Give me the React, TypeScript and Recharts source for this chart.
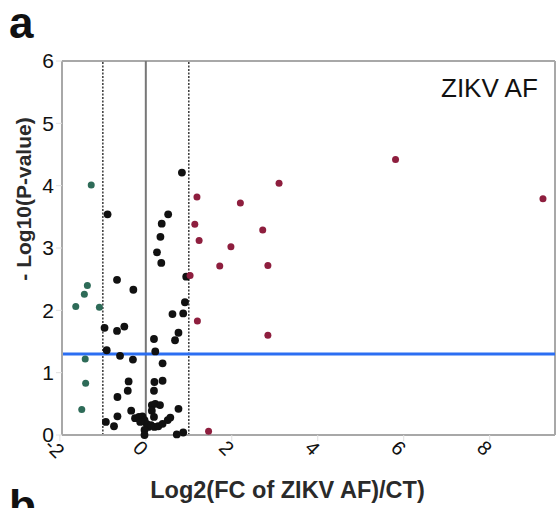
import React from "react";
import {
  ScatterChart,
  Scatter,
  XAxis,
  YAxis,
  ReferenceLine,
  Label,
} from "recharts";

// ---- data ----
const xTicks = [-2, 0, 2, 4, 6, 8];
const yTicks = [0, 1, 2, 3, 4, 5, 6];
const xDomain = [-1.95, 9.52];
const yDomain = [0, 6];
const pThreshold = 1.3;
const fcThresholds = [-1, 1];

const downPoints: [number, number][] = [
  [-1.27, 4.01], [-1.36, 2.4], [-1.43, 2.26], [-1.63, 2.06], [-1.08, 2.05],
  [-1.41, 1.22], [-1.4, 0.83], [-1.49, 0.41],
];

const upPoints: [number, number][] = [
  [1.19, 3.82], [1.14, 3.38], [1.24, 3.12], [1.03, 2.56], [1.2, 1.83],
  [1.46, 0.06], [1.72, 2.71], [1.98, 3.02], [2.2, 3.72], [2.72, 3.29],
  [2.84, 2.72], [2.84, 1.6], [3.1, 4.04], [5.81, 4.42], [9.24, 3.79],
];

const nsPoints: [number, number][] = [
  [-0.89, 3.54], [0.84, 4.21], [0.52, 3.54], [0.37, 3.39], [0.34, 3.18],
  [0.26, 2.93], [0.36, 2.76], [-0.67, 2.49], [-0.29, 2.33], [0.94, 2.54],
  [0.91, 2.13], [-0.96, 1.72], [-0.67, 1.67], [-0.5, 1.74], [0.62, 1.94],
  [0.87, 1.95], [0.19, 1.54], [0.76, 1.64], [0.68, 1.52], [-0.91, 1.36],
  [0.22, 1.34], [-0.6, 1.27], [-0.3, 1.21], [0.39, 1.15], [-0.4, 0.86],
  [-0.42, 0.71], [0.2, 0.85], [0.39, 0.87], [0.19, 0.71], [-0.66, 0.61],
  [-0.34, 0.39], [0.14, 0.48], [0.22, 0.5], [0.33, 0.48], [0.14, 0.39],
  [0.76, 0.42], [-0.93, 0.21], [-0.74, 0.14], [-0.66, 0.3], [-0.25, 0.27],
  [-0.16, 0.29], [-0.08, 0.3], [-0.03, 0.24], [0.02, 0.18], [0.06, 0.13],
  [-0.03, 0.08], [-0.03, 0.0], [0.12, 0.16], [0.2, 0.13], [0.29, 0.14],
  [0.39, 0.18], [0.51, 0.24], [0.57, 0.28], [0.72, 0.01], [0.87, 0.04],
  [0.19, 0.29], [-0.13, 0.21],
];

const toRows = (pts: [number, number][]) => pts.map(([x, y]) => ({ x, y }));

const FONT = "'Liberation Sans', Arial, sans-serif";

const dot = (r: number, fill: string) => (props: any) =>
  <circle cx={props.cx} cy={props.cy} r={r} fill={fill} />;

export default function App() {
  return (
    <div
      style={{
        position: "absolute",
        left: 0,
        top: 0,
        width: 556,
        height: 508,
        overflow: "hidden",
        background: "#fff",
        fontFamily: FONT,
      }}
    >
      <ScatterChart
        width={556}
        height={508}
        margin={{ top: 61, right: 1, bottom: 0, left: 0 }}
        style={{ fontFamily: FONT }}
      >
        <XAxis
          type="number"
          dataKey="x"
          domain={xDomain}
          ticks={xTicks}
          allowDataOverflow
          height={73}
          angle={45}
          axisLine={{ stroke: "#a8a8a8", strokeWidth: 2 }}
          tickLine={{ stroke: "#e0e0e0" }}
          tick={{ fill: "#111", fontSize: 20 }}
        >
          <Label
            value="Log2(FC of ZIKV AF)/CT)"
            position="center"
            dx={-21}
            dy={18}
            fill="#2a2a2a"
            fontSize={23.5}
            fontWeight="bold"
          />
        </XAxis>
        <YAxis
          type="number"
          dataKey="y"
          domain={yDomain}
          ticks={yTicks}
          width={62}
          axisLine={{ stroke: "#a8a8a8", strokeWidth: 2 }}
          tickLine={{ stroke: "#e0e0e0" }}
          tick={{ fill: "#111", fontSize: 21 }}
        >
          <Label
            value="- Log10(P-value)"
            position="center"
            angle={-90}
            dx={-7}
            dy={-49}
            fill="#2a2a2a"
            fontSize={21}
            fontWeight="bold"
          />
        </YAxis>
        <ReferenceLine y={6} stroke="#a8a8a8" strokeWidth={2} />
        <ReferenceLine x={xDomain[1]} stroke="#a8a8a8" strokeWidth={2} />
        <ReferenceLine x={0} stroke="#777" strokeWidth={2} />
        {fcThresholds.map((t) => (
          <ReferenceLine
            key={t}
            x={t}
            stroke="#3a3a3a"
            strokeWidth={1.5}
            strokeDasharray="2 1.5"
          />
        ))}
        <Scatter
          data={toRows(nsPoints)}
          fill="#111"
          shape={dot(3.9, "#111")}
          isAnimationActive={false}
        />
        <Scatter
          data={toRows(downPoints)}
          fill="#2e6b58"
          shape={dot(3.5, "#2e6b58")}
          isAnimationActive={false}
        />
        <Scatter
          data={toRows(upPoints)}
          fill="#8e1e3e"
          shape={dot(3.5, "#8e1e3e")}
          isAnimationActive={false}
        />
        <ReferenceLine y={pThreshold} stroke="#2b6ef2" strokeWidth={3} />
      </ScatterChart>
      <div
        style={{
          position: "absolute",
          left: 441,
          top: 75,
          fontSize: 26,
          lineHeight: "26px",
          color: "#111",
          whiteSpace: "nowrap",
        }}
      >
        ZIKV AF
      </div>
      <div
        style={{
          position: "absolute",
          left: 9,
          top: 1,
          fontSize: 44,
          lineHeight: "44px",
          fontWeight: "bold",
          color: "#111",
        }}
      >
        a
      </div>
      <div
        style={{
          position: "absolute",
          left: 9,
          top: 484,
          fontSize: 44,
          lineHeight: "44px",
          fontWeight: "bold",
          color: "#111",
        }}
      >
        b
      </div>
    </div>
  );
}
